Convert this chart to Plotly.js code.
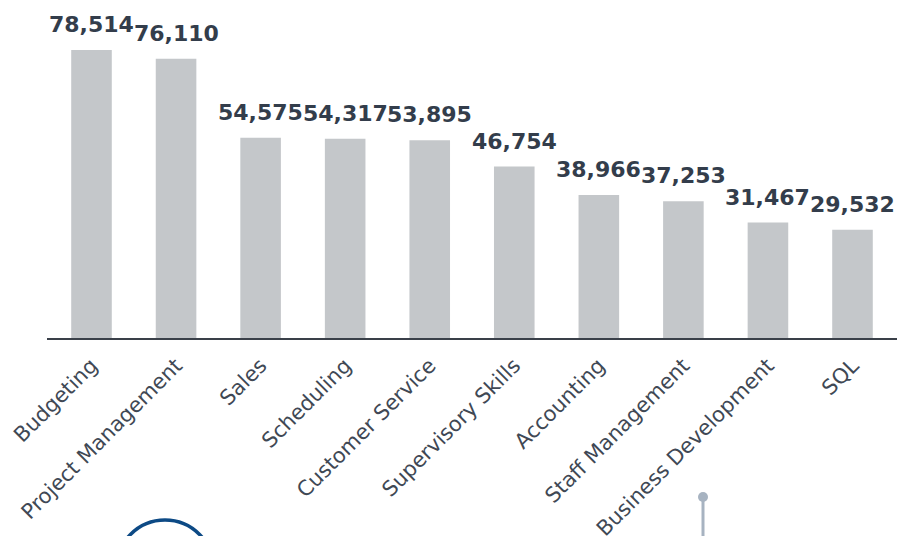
<!DOCTYPE html>
<html>
<head>
<meta charset="utf-8">
<script src="https://cdn.plot.ly/plotly-3.0.1.min.js"></script>
<style>html,body{margin:0;padding:0;background:#fff;}#chart{width:899px;height:536px;}</style>
</head>
<body>
<div id="chart"></div>
<script>
const categories = ["Budgeting","Project Management","Sales","Scheduling","Customer Service","Supervisory Skills","Accounting","Staff Management","Business Development","SQL"];
const values = [78514, 76110, 54575, 54317, 53895, 46754, 38966, 37253, 31467, 29532];
const labels = values.map(v => v.toLocaleString("en-US"));

const trace = {
  type: "bar",
  x: categories,
  y: values,
  marker: {color: "#c4c7ca"},
  width: 0.48,
  hoverinfo: "x+y"
};

const annotations = categories.map((c, i) => ({
  x: c, y: values[i], xref: "x", yref: "y",
  text: labels[i], showarrow: false,
  yanchor: "bottom", yshift: 11,
  font: {family: "DejaVu Sans", size: 22, color: "#333d4b", weight: "bold"}
}));

const W = 850, H = 338, L = 47;
function px(x){ return (x - L) / W; }
function py(y){ return (H - y) / H; }

const shapes = [
  {type: "circle", xref: "paper", yref: "paper",
   x0: px(165 - 48.5), x1: px(165 + 48.5), y0: py(568.5 + 48.5), y1: py(568.5 - 48.5),
   line: {color: "#0d4a85", width: 3.5}, fillcolor: "rgba(0,0,0,0)", layer: "above"},
  {type: "line", xref: "paper", yref: "paper",
   x0: px(703), x1: px(703), y0: py(497), y1: py(540),
   line: {color: "#a7b3c1", width: 3}},
  {type: "circle", xref: "paper", yref: "paper",
   x0: px(698), x1: px(708), y0: py(502), y1: py(492),
   line: {color: "#a7b3c1", width: 0}, fillcolor: "#a7b3c1"}
];

const layout = {
  width: 899, height: 536,
  margin: {l: 47, r: 2, t: 0, b: 198},
  paper_bgcolor: "#ffffff", plot_bgcolor: "#ffffff",
  showlegend: false,
  font: {family: "DejaVu Sans", color: "#404854"},
  xaxis: {
    tickangle: -45, tickfont: {family: "DejaVu Sans", size: 21, color: "#404854"},
    showline: true, linecolor: "#3a4049", linewidth: 2,
    ticks: "", showgrid: false, automargin: false, ticklabelstandoff: 5
  },
  yaxis: {
    range: [0, 92144], visible: false, showgrid: false, zeroline: false, automargin: false
  },
  annotations: annotations,
  shapes: shapes,
  bargap: 0.52
};

Plotly.newPlot("chart", [trace], layout, {displayModeBar: false, staticPlot: true});
</script>
</body>
</html>
